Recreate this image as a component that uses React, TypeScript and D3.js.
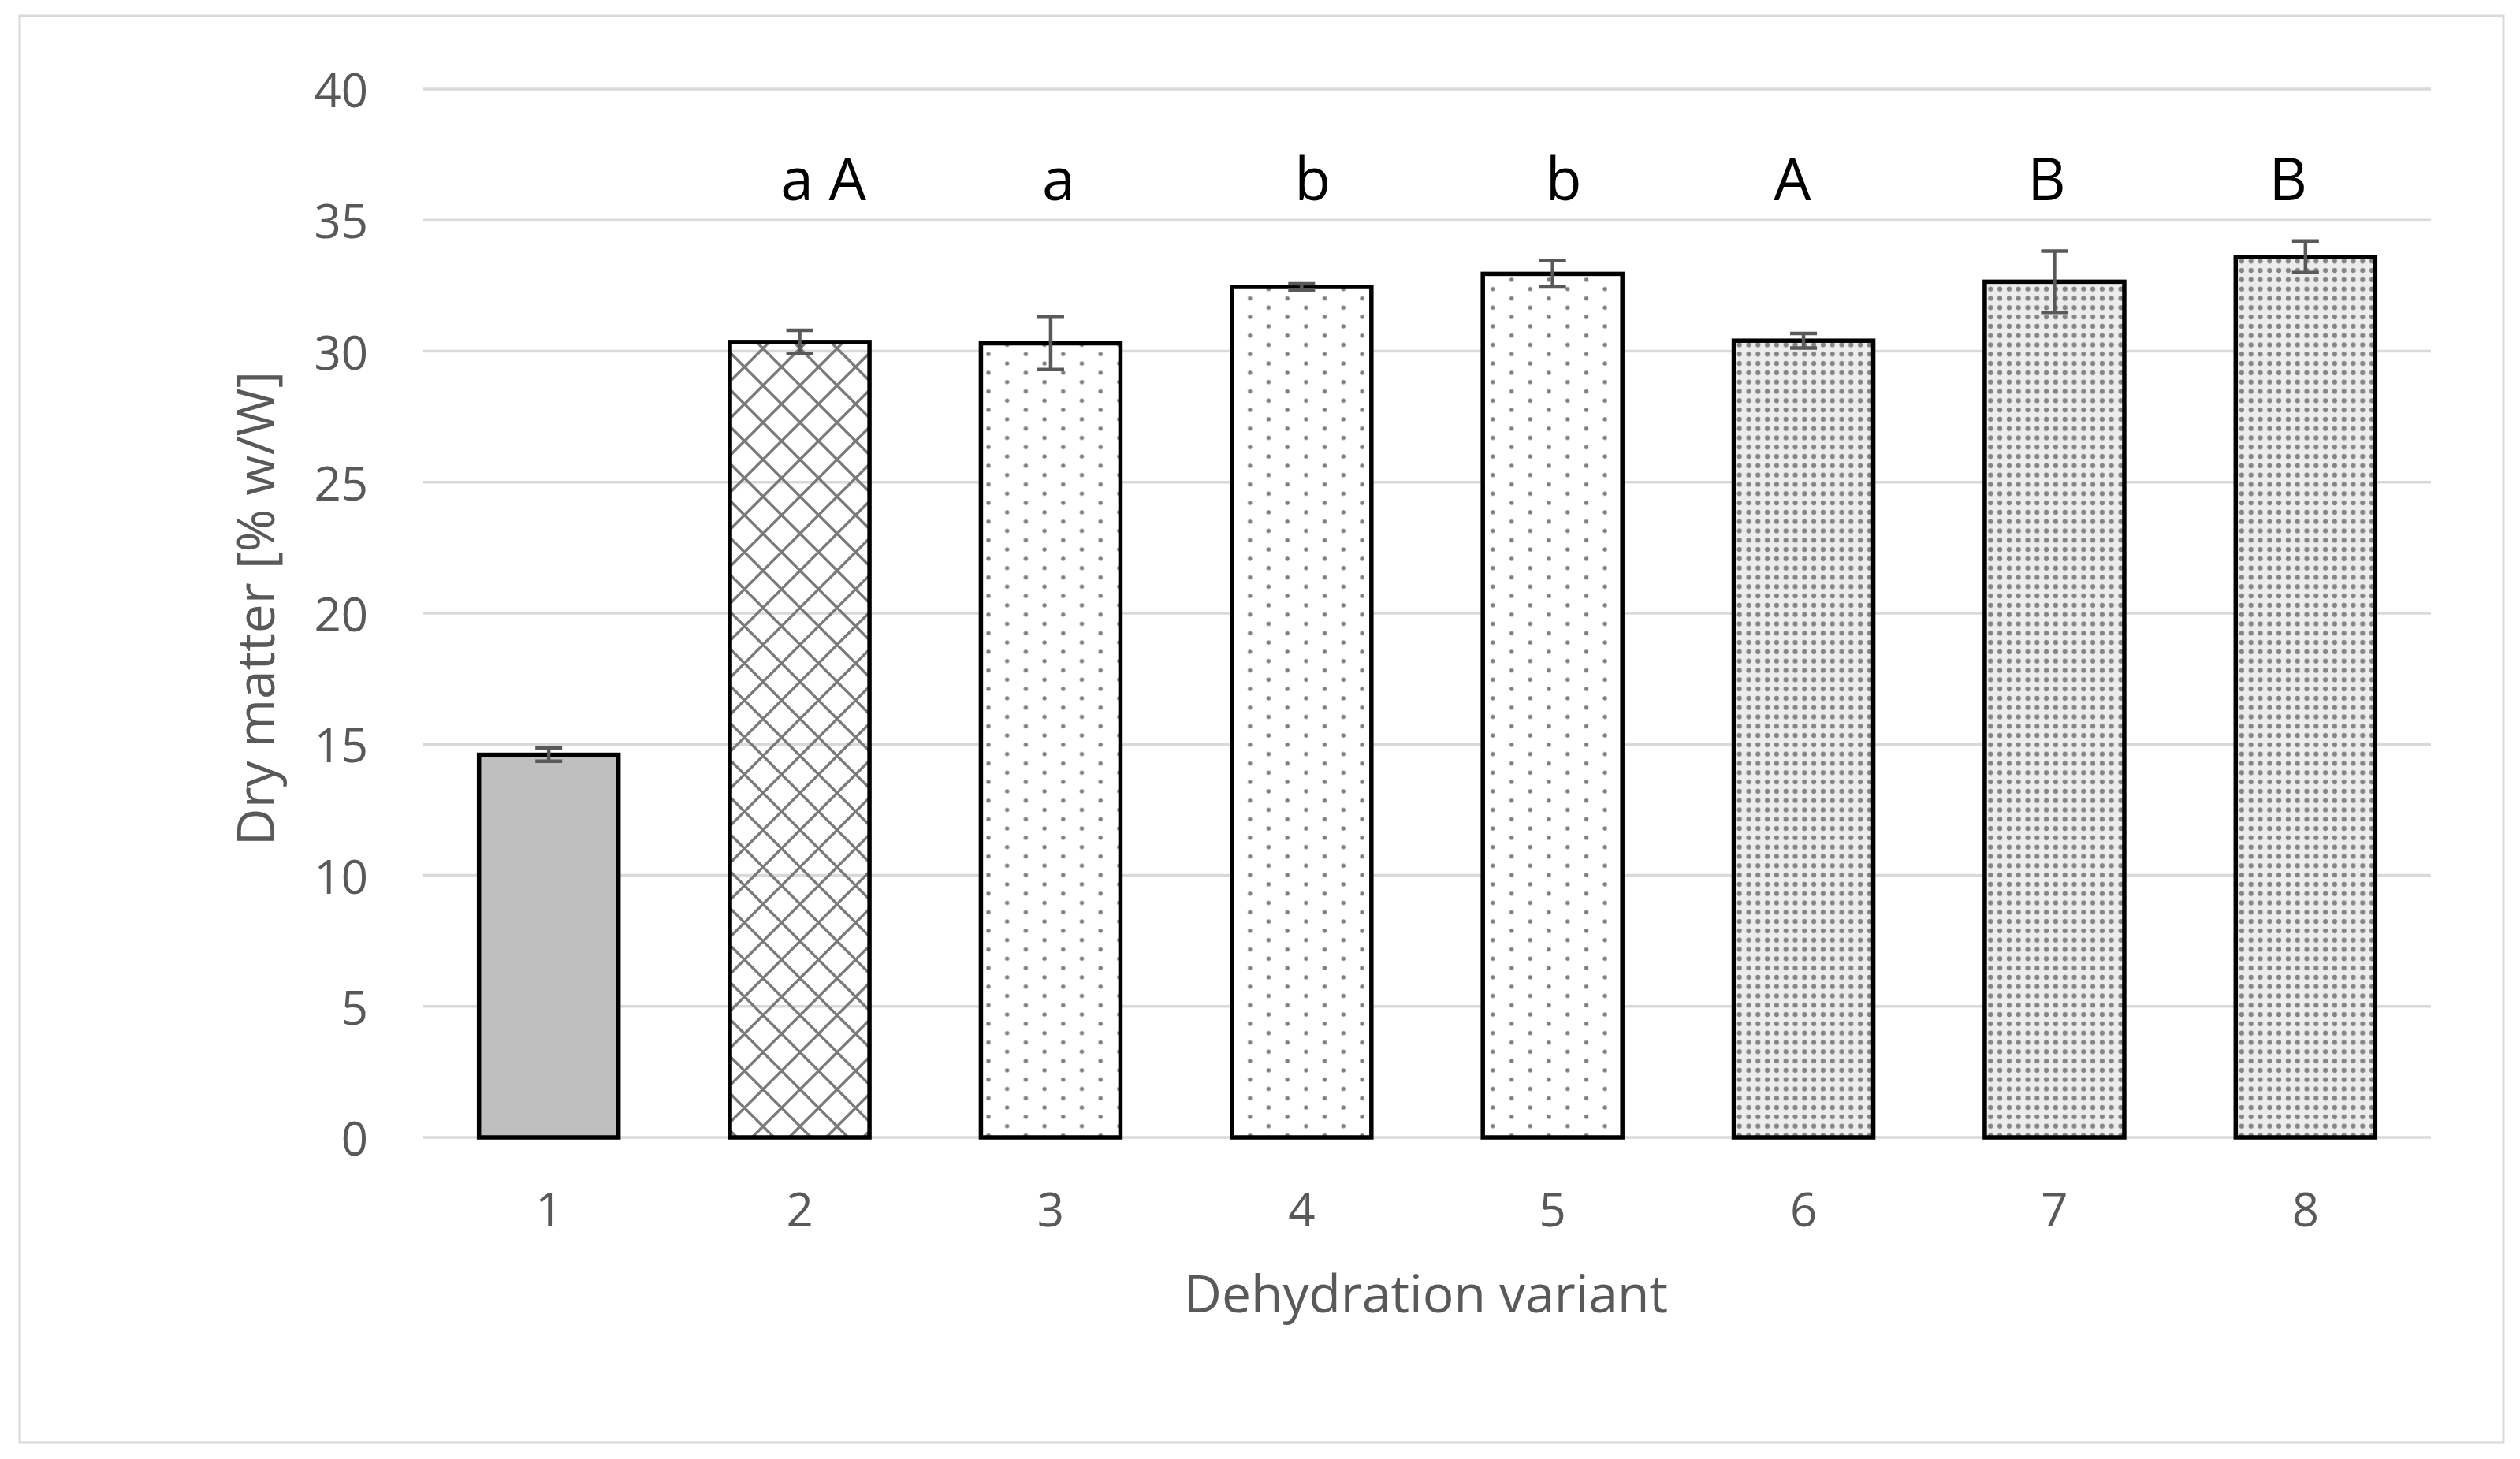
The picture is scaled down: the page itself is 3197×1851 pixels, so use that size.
import * as d3 from 'd3';

const W = 3197;
const H = 1851;
const MARGIN = { top: 113, right: 113, bottom: 408, left: 537 };

const VARIANTS = ['1', '2', '3', '4', '5', '6', '7', '8'];
const MEANS = [14.6, 30.35, 30.3, 32.45, 32.95, 30.4, 32.65, 33.6];
const ERRORS = [0.25, 0.45, 1.0, 0.12, 0.5, 0.28, 1.17, 0.6];
const LETTERS = ['', 'a A', 'a', 'b', 'b', 'A', 'B', 'B'];
const FILLS = ['#bfbfbf', 'url(#hatch)', 'url(#dots)', 'url(#dots)', 'url(#dots)', 'url(#dense)', 'url(#dense)', 'url(#dense)'];
// letters are not exactly centred in the original
const LETTER_DX = [0, 30, 10, 14, 14, -14, -10, -22];
const Y_TICKS = [0, 5, 10, 15, 20, 25, 30, 35, 40];

const FONT = '"Open Sans", sans-serif';
const GREY_TEXT = '#595959';

export default function App() {
  const boundsWidth = W - MARGIN.left - MARGIN.right;
  const boundsHeight = H - MARGIN.top - MARGIN.bottom;

  const xScale = d3
    .scaleBand()
    .domain(VARIANTS)
    .range([0, boundsWidth])
    .paddingInner(0.444)
    .paddingOuter(0.222);

  const yScale = d3.scaleLinear().domain([0, 40]).range([boundsHeight, 0]);

  const bw = xScale.bandwidth();

  return (
    <div style={{ position: 'absolute', left: 0, top: 0, background: '#fff' }}>
      <svg width={W} height={H} style={{ display: 'block' }}>
        <defs>
          <pattern id="hatch" patternUnits="userSpaceOnUse" width={47} height={47} x={8} y={0}>
            <line x1={0} y1={0} x2={47} y2={47} stroke="#7a7a7a" strokeWidth={3.4} />
            <line x1={47} y1={0} x2={0} y2={47} stroke="#7a7a7a" strokeWidth={3.4} />
            <line x1={-5} y1={42} x2={5} y2={52} stroke="#7a7a7a" strokeWidth={3.4} />
            <line x1={42} y1={-5} x2={52} y2={5} stroke="#7a7a7a" strokeWidth={3.4} />
          </pattern>
          <pattern id="dots" patternUnits="userSpaceOnUse" width={47.4} height={23.6}>
            <rect width={47.4} height={23.6} fill="#fff" />
            <circle cx={6} cy={6} r={2.7} fill="#7f7f7f" />
            <circle cx={29.7} cy={17.8} r={2.7} fill="#7f7f7f" />
          </pattern>
          <pattern id="dense" patternUnits="userSpaceOnUse" width={11.8} height={11.8}>
            <rect width={11.8} height={11.8} fill="#ececec" />
            <circle cx={5.9} cy={5.9} r={3.1} fill="#858585" />
          </pattern>
        </defs>

        <rect x={0} y={0} width={W} height={H} fill="#fff" />
        <rect x={25} y={20} width={3151} height={1810} fill="none" stroke="#d9d9d9" strokeWidth={3} />

        <g transform={`translate(${MARGIN.left},${MARGIN.top})`}>
          {Y_TICKS.map((t) => (
            <g key={t}>
              <line
                x1={0}
                x2={boundsWidth}
                y1={yScale(t)}
                y2={yScale(t)}
                stroke="#d9d9d9"
                strokeWidth={3.5}
              />
              <text
                x={-70}
                y={yScale(t)}
                textAnchor="end"
                dominantBaseline="central"
                fontFamily={FONT}
                fontSize={60}
                fill={GREY_TEXT}
              >
                {t}
              </text>
            </g>
          ))}

          {VARIANTS.map((v, i) => {
            const x = xScale(v) ?? 0;
            const cx = x + bw / 2;
            const top = yScale(MEANS[i]);
            const eTop = yScale(MEANS[i] + ERRORS[i]);
            const eBot = yScale(MEANS[i] - ERRORS[i]);
            return (
              <g key={v}>
                <rect
                  x={x}
                  y={top}
                  width={bw}
                  height={boundsHeight - top}
                  fill={FILLS[i]}
                  stroke="#000"
                  strokeWidth={5.5}
                />
                <g stroke="#595959" strokeWidth={4.5}>
                  <line x1={cx} x2={cx} y1={eTop} y2={eBot} />
                  <line x1={cx - 17} x2={cx + 17} y1={eTop} y2={eTop} />
                  <line x1={cx - 17} x2={cx + 17} y1={eBot} y2={eBot} />
                </g>
                <text
                  x={cx}
                  y={boundsHeight + 90}
                  textAnchor="middle"
                  dominantBaseline="central"
                  fontFamily={FONT}
                  fontSize={60}
                  fill={GREY_TEXT}
                >
                  {v}
                </text>
                {LETTERS[i] && (
                  <text
                    x={cx + LETTER_DX[i]}
                    y={254 - MARGIN.top}
                    textAnchor="middle"
                    fontFamily={FONT}
                    fontSize={75}
                    fill="#000"
                  >
                    {LETTERS[i]}
                  </text>
                )}
              </g>
            );
          })}
        </g>

        <text
          x={1809}
          y={1665}
          textAnchor="middle"
          fontFamily={FONT}
          fontSize={66}
          fill={GREY_TEXT}
        >
          Dehydration variant
        </text>
        <text
          transform={`translate(348, 772) rotate(-90)`}
          textAnchor="middle"
          fontFamily={FONT}
          fontSize={66}
          fill={GREY_TEXT}
        >
          Dry matter [% w/W]
        </text>
      </svg>
    </div>
  );
}
